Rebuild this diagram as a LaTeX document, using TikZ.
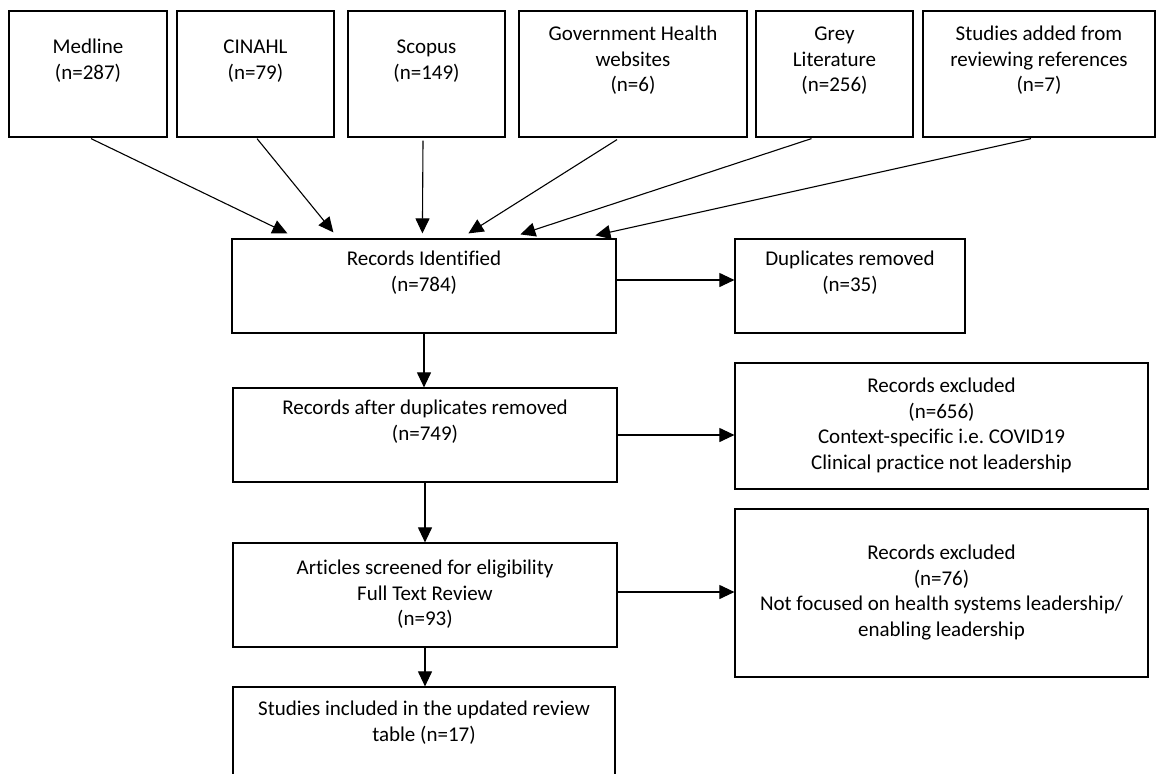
\documentclass[tikz,border=0pt]{standalone}
\usepackage{fontspec}
\setmainfont{Carlito}[Ligatures=NoCommon]
\frenchspacing
\usetikzlibrary{arrows.meta}
\begin{document}
\begin{tikzpicture}[x=1pt,y=-1pt,
  box/.style={draw=black, line width=1.2pt, rectangle, inner sep=0pt, align=center,
    font=\fontsize{21}{25.6}\selectfont, text=black},
  arr/.style={draw=black, line width=1.1pt, -{Triangle[length=15pt,width=14pt]}},
]
\useasboundingbox (0,0) rectangle (1157,774);
\clip (0,0) rectangle (1157,774);

% sources
\node[box, minimum width=158pt, minimum height=126pt] (med) at (88,74)
  {\strut Medline\\\strut (n=287)\\\strut};
\node[box, minimum width=157pt, minimum height=126pt] (cin) at (255.5,74)
  {\strut CINAHL\\\strut (n=79)\\\strut};
\node[box, minimum width=157pt, minimum height=126pt] (sco) at (426.5,74)
  {\strut Scopus\\\strut (n=149)\\\strut};
\node[box, minimum width=228pt, minimum height=126pt] (gov) at (633,74)
  {\strut Government Health\\\strut websites\\\strut (n=6)\\\strut};
\node[box, minimum width=157pt, minimum height=126pt] (grey) at (834.5,74)
  {\strut Grey\\\strut Literature\\\strut (n=256)\\\strut};
\node[box, minimum width=232pt, minimum height=126pt] (stud) at (1039,74)
  {\strut Studies added from\\\strut reviewing references\\\strut (n=7)\\\strut};

% main flow
\node[box, minimum width=384pt, minimum height=94pt] (rid) at (424,286)
  {\strut Records Identified\\\strut (n=784)\\\strut};
\node[box, minimum width=230pt, minimum height=94pt] (dup) at (850,286)
  {\strut Duplicates removed\\\strut (n=35)\\\strut};
\node[box, minimum width=384pt, minimum height=94pt] (rad) at (425,435)
  {\strut Records after duplicates removed\\\strut (n=749)\\\strut};
\node[box, minimum width=413pt, minimum height=126pt] (ex1) at (941.5,426)
  {\strut Records excluded\\\strut (n=656)\\\strut Context-specific i.e. COVID19\\\strut Clinical practice not leadership};
\node[box, minimum width=384pt, minimum height=104pt] (art) at (425,595)
  {\strut Articles screened for eligibility\\\strut Full Text Review\\\strut (n=93)};
\node[box, minimum width=413pt, minimum height=168pt] (ex2) at (941.5,593)
  {\strut Records excluded\\\strut (n=76)\\\strut Not focused on health systems leadership/\\\strut enabling leadership};
\node[box, minimum width=382pt, minimum height=98pt] (inc) at (424,736)
  {\strut Studies included in the updated review\\\strut table (n=17)\\\strut};

% sources into records identified
\draw[arr] ([shift={(3,1)}]med.south)    -- ([shift={(56,-5)}]rid.north west);
\draw[arr] ([shift={(1.5,1)}]cin.south)  -- ([shift={(102,-6)}]rid.north west);
\draw[arr] ([shift={(-3.5,3)}]sco.south) -- ([shift={(191,-5)}]rid.north west);
\draw[arr] ([shift={(-16,2)}]gov.south)  -- ([shift={(237,-5)}]rid.north west);
\draw[arr] ([shift={(-23,1)}]grey.south) -- ([shift={(289,-4)}]rid.north west);
\draw[arr] ([shift={(-8,1)}]stud.south)  -- ([shift={(364,-3)}]rid.north west);

% downward flow
\draw[arr] (rid.south) -- (rid.south |- rad.north);
\draw[arr] (rad.south) -- (rad.south |- art.north);
\draw[arr] (art.south) -- (art.south |- inc.north);

% exclusions
\draw[arr] ([yshift=6pt]rid.east) -- ([yshift=6pt]dup.west);
\draw[arr] (rad.east) -- (rad.east -| ex1.west);
\coordinate (artout) at ([yshift=3pt]art.east);
\draw[arr] (artout) -- (artout -| ex2.west);
\end{tikzpicture}
\end{document}
